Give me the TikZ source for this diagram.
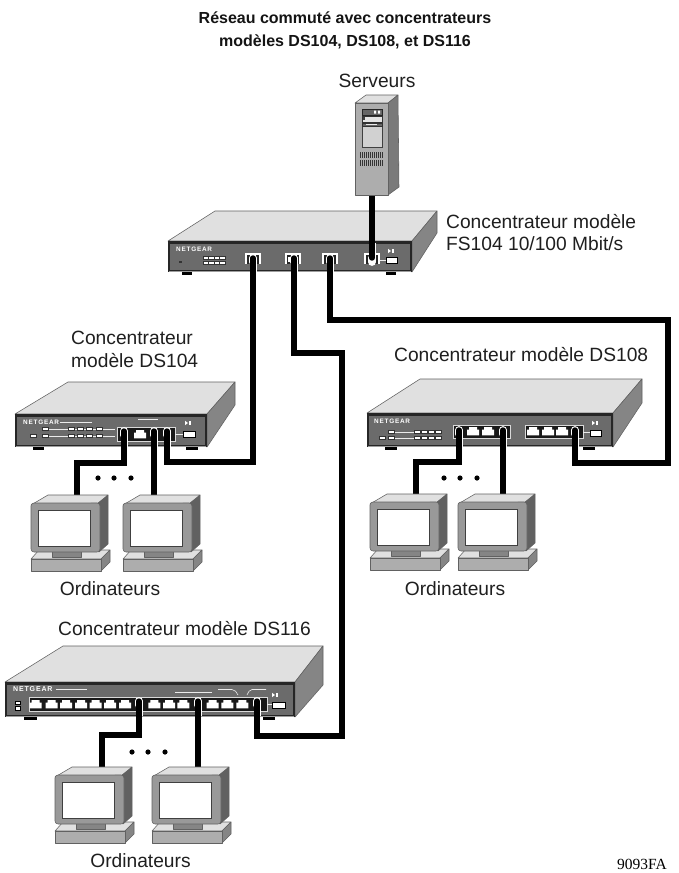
\documentclass[tikz,border=0pt]{standalone}
\usepackage{fontspec}
\setmainfont{Liberation Sans}
\newfontfamily\ngfont{Liberation Sans}[LetterSpace=12]
\newfontfamily\codefont{Liberation Serif}
\tikzset{
  x=1pt,y=-1pt,
  lbl/.style={inner sep=0pt,font=\fontsize{19.2}{22}\selectfont,text=black!88},
  lblw/.style={lbl,anchor=west},
  ttl/.style={inner sep=0pt,anchor=center,align=center,font=\fontsize{16}{22.7}\selectfont\bfseries,text=black!92},
  cable/.style={draw=black,line width=5.4pt,line join=miter,line cap=round},
  halo/.style={draw=white,line width=7.8pt,line cap=round},
  edge/.style={draw=black!62,line width=0.55pt,line join=round},
  wline/.style={draw=white!92!black,line width=0.6pt},
  ngtxt/.style={inner sep=0pt,anchor=west,text=white,font=\ngfont\bfseries\fontsize{6.4}{7}\selectfont},
}
% front-left x, top y, front-right x, bottom y, back-left x, back y, back-right x, side low y
\newcommand\hubbody[8]{%
  \fill[black!12,edge] (#1,#2) -- (#5,#6) -- (#7,#6) -- (#3,#2) -- cycle;
  \fill[black!48,edge] (#3,#2) -- (#7,#6) -- (#7,#8) -- (#3,#4) -- cycle;
  \fill[black!85] (#1,#2) rectangle (#3,#4);
  \fill[black!58] (#1+2.2,#2+2.6) rectangle (#3-2.2,#4-2.2);
  \draw[black!38,line width=.7pt] (#1+1,#4-1.0) -- (#3-1,#4-1.0);
}
\newcommand\foot[3]{\fill[black] (#1,#3) rectangle (#2,#3+3);}
\newcommand\led[2]{\fill[white,draw=black!80,line width=.35pt] (#1-2.8,#2-1.5) rectangle (#1+2.8,#2+1.5);}
\newcommand\jack[2]{\fill[white,shift={(#1,#2)}] (-6,-1.5) -- (-4,-1.5) -- (-4,-3.8) -- (4,-3.8) -- (4,-1.5) -- (6,-1.5) -- (6,4.4) -- (-6,4.4) -- cycle;}
\newcommand\pblock[4]{\fill[black!90,draw=white!85!black,line width=.6pt] (#1,#2) rectangle (#3,#4);}
\newcommand\pwr[3]{% x1,x2,y-centre
  \fill[white,draw=black,line width=.5pt] (#1,#3-3.2) rectangle (#2,#3+3.2);}
\newcommand\picon[2]{\fill[white] (#1-3,#2-2.2) -- (#1,#2) -- (#1-3,#2+2.2) -- cycle;
  \fill[white] (#1+.7,#2-2.2) rectangle (#1+2.8,#2+2.2);}
\newcommand\monitor[3]{%
  \begin{scope}[shift={(#1,#2)}]
    \coordinate (#3) at (0,0);
    \fill[black!12,edge] (0,56) -- (8,47) -- (79,47) -- (70,56) -- cycle;
    \fill[black!48,edge] (70,56) -- (79,47) -- (79,59) -- (70,68) -- cycle;
    \fill[black!32,edge] (0,56) rectangle (70,68);
    \fill[black!12,edge] (0,2) -- (17,-8) -- (77,-8) -- (69,0) -- cycle;
    \fill[black!62,edge] (67,0) -- (77,-8) -- (77,41) -- (68,49) -- cycle;
    \fill[black!48,edge] (21,48) rectangle (50,54);
    \fill[black!40,edge,rounded corners=3pt] (0,0) rectangle (69,49);
    \fill[white,draw=black!75,line width=.8pt] (7,7) rectangle (59,43);
  \end{scope}}
\begin{document}
\begin{tikzpicture}
\useasboundingbox (0,0) rectangle (678,873);
\fill[white] (0,0) rectangle (678,873);
% ---------- texts
\node[ttl] (title) at (345,30.5) {Réseau commuté avec concentrateurs\\modèles DS104, DS108, et DS116};
\node[lbl] (srvlbl) at (377,81) {Serveurs};
\node[lblw] (fslbl1) at (446,222) {Concentrateur modèle};
\node[lblw] (fslbl2) at (446,244) {FS104 10/100 Mbit/s};
\node[lblw] (d4lbl1) at (71,338) {Concentrateur};
\node[lblw] (d4lbl2) at (71,361) {modèle DS104};
\node[lblw] (d8lbl) at (394,355) {Concentrateur modèle DS108};
\node[lblw] (d6lbl) at (58,629) {Concentrateur modèle DS116};
\node[lbl] (ord1) at (110,589) {Ordinateurs};
\node[lbl] (ord2) at (455,589) {Ordinateurs};
\node[lbl] (ord3) at (140.5,861) {Ordinateurs};
\node[inner sep=0pt,anchor=east,font=\codefont\fontsize{15.5}{16}\selectfont] (code) at (667,864) {9093FA};
% ---------- FS104
\hubbody{168}{241}{412}{272}{215}{211}{437}{233}
\foot{182}{192}{272}\foot{386}{396}{272}
\node[ngtxt] (ngfs) at (176,249) {NETGEAR};
\fill[black!80] (179,261) rectangle (182,263);
\foreach \i in {0,1,2,3}{\led{206+\i*5.4}{257.5}\led{206+\i*5.4}{262.5}}
\foreach \x in {253,293,330,372}{\fill[white] (\x-8,253) rectangle (\x+8,264); \fill[black!85] (\x-6,255) rectangle (\x+6,264);}
\fill[white] (288,257) rectangle (298,262);
\draw[wline,line width=.9pt] (380,260) -- (386,260);
\pwr{386}{397}{260}\picon{391}{251}
% ---------- DS104
\hubbody{15}{414}{207}{447}{68}{382}{235}{405}
\foot{33}{44}{447}\foot{186}{198}{447}
\node[ngtxt] (ng104) at (23,422) {NETGEAR};
\draw[wline] (60,422) -- (92,422);
\draw[wline] (45,429) -- (115,429) (45,436) -- (115,436);
\foreach \x in {45,71,80,89,99}{\led{\x}{429}\led{\x}{436}}
\led{33}{436}
\draw[wline] (138,419.5) -- (158,419.5);
\pblock{117}{427}{175}{441}
\jack{140}{434}
\draw[wline,line width=.9pt] (175,434) -- (183,434);
\pwr{183}{195}{434}\picon{188}{423}
% ---------- DS108
\hubbody{367}{413}{613}{447}{420}{379}{642}{403}
\foot{385}{397}{447}\foot{583}{595}{447}
\node[ngtxt] (ng108) at (374,421) {NETGEAR};
\draw[wline] (391,432) -- (438,432) (391,438) -- (438,438);
\foreach \x in {391,417,424,431,438}{\led{\x}{432}\led{\x}{438}}
\led{382}{438}
\pblock{453}{425}{510}{438}
\pblock{525}{425}{583}{438}
\foreach \x in {473,488,533,548,562}{\jack{\x}{431}}
\draw[wline,line width=.9pt] (583,432) -- (590,432);
\pwr{590}{601}{433}\picon{595}{423}
% ---------- DS116
\hubbody{5}{682}{295}{717}{63}{646}{323}{685}
\foot{24}{37}{717}\foot{263}{275}{717}
\node[ngtxt,font=\ngfont\bfseries\fontsize{7}{7}\selectfont] (ng116) at (13,689) {NETGEAR};
\draw[wline] (56,689.5) -- (87,689.5);
\draw[wline] (175,692) -- (212,692);
\draw[wline] (218,689.5) -- (232,689.5) to[out=0,in=120] (238,695);
\draw[wline] (247,695) to[out=60,in=180] (252,689.5) -- (266,689.5);
\fill[white,draw=black,line width=.35pt] (15,701) rectangle (20,704.5);
\fill[white,draw=black,line width=.35pt] (15,706.5) rectangle (20,710);
\pblock{29}{697}{267}{711}
\foreach \x in {35.7,51.7,66,81,95.7,110,125,154.3,169,183.3,212.7,227.3,242.3}{\jack{\x}{704}}
\draw[wline,line width=.9pt] (267,704) -- (272,704);
\pwr{272}{285}{705.5}\picon{275}{695}
% ---------- port coordinates
\coordinate (fsA) at (253,258);
\coordinate (fsB) at (294,258);
\coordinate (fsC) at (330,258);
\coordinate (fsD) at (372,258);
\coordinate (srvB) at (372,190);
\coordinate (d4A) at (124,431);
\coordinate (d4B) at (154,431);
\coordinate (d4C) at (167,431);
\coordinate (d8A) at (459,430);
\coordinate (d8B) at (503,430);
\coordinate (d8C) at (575,430);
\coordinate (d6A) at (139,701);
\coordinate (d6B) at (198,701);
\coordinate (d6C) at (257,701);
\coordinate (m1) at (77,500);
\coordinate (m2) at (154,500);
\coordinate (m3) at (416,500);
\coordinate (m4) at (503,500);
\coordinate (m5) at (102,772);
\coordinate (m6) at (198,772);
% ---------- halos
\foreach \p in {fsA,fsB,fsC,fsD,d4A,d4B,d4C,d8A,d8B,d8C,d6A,d6B,d6C}{
  \draw[halo] (\p) -- ++(0,4);
}
\foreach \p/\e in {fsA/272,fsB/272,fsC/272,d4A/447,d4B/447,d4C/447,d8A/447,d8B/447,d8C/447,d6A/716,d6B/716,d6C/716}{
  \draw[draw=white,line width=7pt] (\p) -- (\p |- 0,\e);
}
\draw[draw=white,line width=7pt] (fsD) -- (fsD |- 0,243);
% ---------- cables
\draw[cable] (srvB) -- (fsD);
\draw[cable] (fsA) -- (fsA |- 0,462) -| (d4C);
\draw[cable] (fsB) -- (fsB |- 0,353) -| (342,736) -| (d6C);
\draw[cable] (fsC) -- (fsC |- 0,320) -| (668,463) -| (d8C);
\draw[cable] (d4A) -- (d4A |- 0,463) -| (m1);
\draw[cable] (d4B) -- (m2);
\draw[cable] (d8A) -- (d8A |- 0,462) -| (m3);
\draw[cable] (d8B) -- (m4);
\draw[cable] (d6A) -- (d6A |- 0,735) -| (m5);
\draw[cable] (d6B) -- (m6);
% ---------- dots
\foreach \x in {98,114,131,444,460,477}{\fill[black] (\x,478) circle (2.6);}
\foreach \x in {132,148,165}{\fill[black] (\x,752) circle (2.6);}
% ---------- monitors
\monitor{31}{503}{mon1}
\monitor{123}{503}{mon2}
\monitor{370}{502}{mon3}
\monitor{458}{502}{mon4}
\monitor{55}{775}{mon5}
\monitor{152}{775}{mon6}
% ---------- server
\fill[black!12,edge] (355,103) -- (366,95) -- (398,95) -- (388,103) -- cycle;
\fill[black!52,edge] (388,103) -- (398,95) -- (399,187) -- (388,195) -- cycle;
\fill[black!32,edge] (355,103) rectangle (388,195);
\fill[black!18,draw=black!75,line width=.5pt] (362,109) rectangle (382,147);
\fill[black!60,draw=black!85,line width=.4pt] (362,109) rectangle (382,115);
\fill[white] (374,110.5) rectangle (376,113.5) (378,110.5) rectangle (380,113.5);
\fill[black!10,draw=black!80,line width=.4pt] (362,116) rectangle (382,122);
\fill[black!60,draw=black!80,line width=.4pt] (362,123) rectangle (382,126);
\fill[black!8] (366,124) rectangle (377,125);
\fill[black!75] (363,117) rectangle (365,120);
\foreach \y in {152,160}{\foreach \i in {0,...,11}{\fill[black!80] (360+\i*2,\y) rectangle (361+\i*2,\y+5.5);}}
\end{tikzpicture}
\end{document}
